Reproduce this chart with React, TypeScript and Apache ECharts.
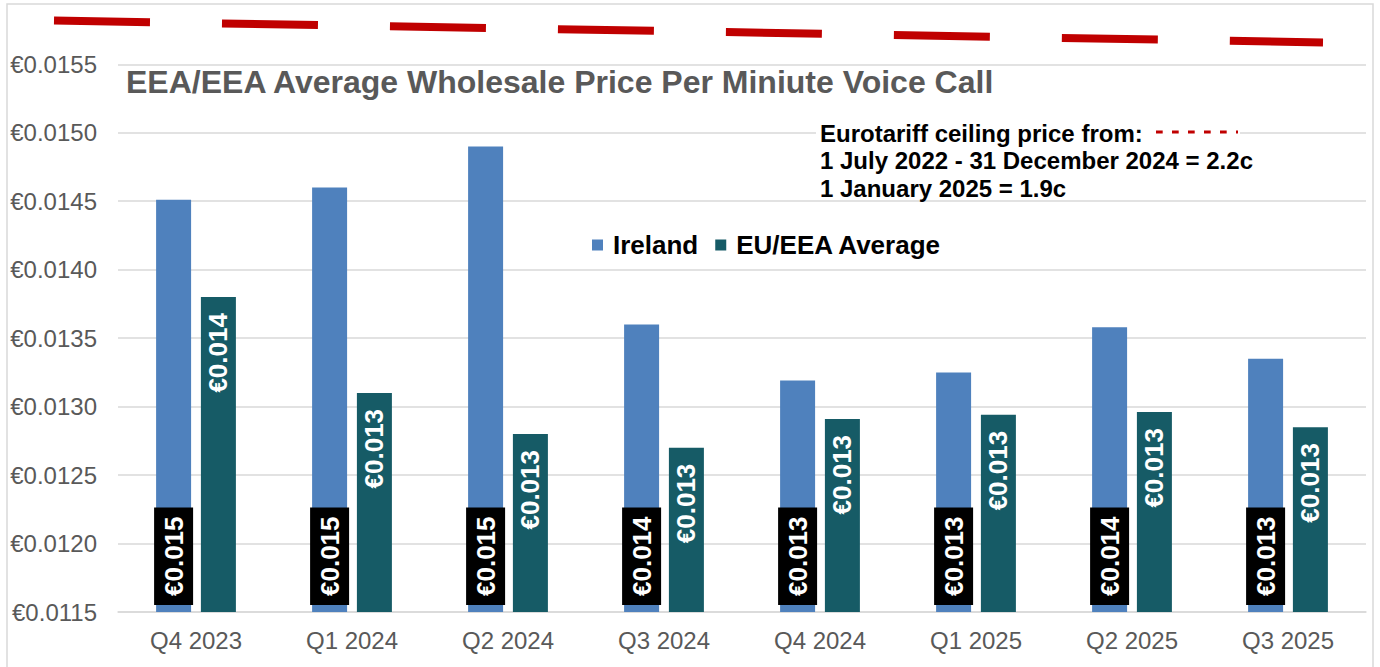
import React, { useEffect, useRef } from "react";
import * as echarts from "echarts";

const categories = ["Q4 2023", "Q1 2024", "Q2 2024", "Q3 2024", "Q4 2024", "Q1 2025", "Q2 2025", "Q3 2025"];
const irelandValues = [0.01451, 0.0146, 0.0149, 0.0136, 0.01319, 0.01325, 0.01358, 0.01335];
const euValues = [0.0138, 0.0131, 0.0128, 0.0127, 0.01291, 0.01294, 0.01296, 0.01285];
const ceilingLine = [0.01582, 0.01566];
const titleText = "EEA/EEA Average Wholesale Price Per Miniute Voice Call";
const noteLines = [
  "Eurotariff ceiling price from:",
  "1 July 2022 - 31 December 2024 = 2.2c",
  "1 January 2025 = 1.9c",
];

const FONT = "'Liberation Sans', Arial, sans-serif";
const fmtLabel = (v: number) => "€" + (Math.round(v * 1000) / 1000).toFixed(3);

export default function App() {
  const ref = useRef<HTMLDivElement>(null);
  useEffect(() => {
    document.body.style.margin = "0";
    const chart = echarts.init(ref.current!, undefined, { renderer: "svg" });
    const gridTop = 64.3;
    const gridBottom = 55;
    chart.setOption({
      animation: false,
      backgroundColor: "#ffffff",
      textStyle: { fontFamily: FONT },
      title: {
        text: titleText,
        left: 126,
        top: 66,
        padding: 0,
        textStyle: { fontFamily: FONT, fontSize: 32, fontWeight: "bold", color: "#595959" },
      },
      legend: {
        left: 592,
        top: 232,
        padding: 0,
        itemWidth: 11,
        itemHeight: 11,
        itemGap: 17,
        icon: "rect",
        data: ["Ireland", "EU/EEA Average"],
        textStyle: { fontFamily: FONT, fontSize: 26, fontWeight: "bold", color: "#000000", padding: [0, 0, 0, 5] },
      },
      grid: [
        { left: 118, right: 14, top: gridTop, bottom: gridBottom },
        { left: 54, right: 57, top: gridTop, bottom: gridBottom },
      ],
      xAxis: [
        {
          type: "category",
          gridIndex: 0,
          data: categories,
          axisTick: { show: false },
          axisLine: { lineStyle: { color: "#d9d9d9", width: 1.5 } },
          axisLabel: { fontFamily: FONT, fontSize: 24, color: "#595959", margin: 16 },
        },
        { type: "value", gridIndex: 1, min: 0, max: 1, show: false },
      ],
      yAxis: [
        {
          type: "value",
          gridIndex: 0,
          min: 0.0115,
          max: 0.0155,
          interval: 0.0005,
          axisLine: { show: false },
          axisTick: { show: false },
          splitLine: { lineStyle: { color: "#d9d9d9", width: 1.5 } },
          axisLabel: {
            fontFamily: FONT,
            fontSize: 24,
            color: "#595959",
            margin: 21,
            formatter: (v: number) => "€" + v.toFixed(4),
          },
        },
        { type: "value", gridIndex: 1, min: 0.0115, max: 0.0155, show: false },
      ],
      series: [
        {
          name: "Ireland",
          type: "bar",
          xAxisIndex: 0,
          yAxisIndex: 0,
          data: irelandValues,
          barWidth: 35,
          barGap: "28%",
          itemStyle: { color: "#4f81bd" },
          label: {
            show: true,
            position: "insideBottom",
            rotate: 90,
            align: "left",
            verticalAlign: "middle",
            distance: 7,
            formatter: (p: any) => fmtLabel(p.value),
            fontFamily: FONT,
            fontSize: 26,
            fontWeight: "bold",
            color: "#ffffff",
            backgroundColor: "#000000",
            padding: [7, 9],
            lineHeight: 25,
          },
        },
        {
          name: "EU/EEA Average",
          type: "bar",
          xAxisIndex: 0,
          yAxisIndex: 0,
          data: euValues,
          barWidth: 35,
          itemStyle: { color: "#165b66" },
          label: {
            show: true,
            position: "insideTop",
            rotate: 90,
            align: "right",
            verticalAlign: "middle",
            distance: 16,
            formatter: (p: any) => fmtLabel(p.value),
            fontFamily: FONT,
            fontSize: 26,
            fontWeight: "bold",
            color: "#ffffff",
          },
        },
        {
          name: "Eurotariff ceiling",
          type: "line",
          xAxisIndex: 1,
          yAxisIndex: 1,
          data: [
            [0, ceilingLine[0]],
            [1, ceilingLine[1]],
          ],
          clip: false,
          symbol: "none",
          silent: true,
          lineStyle: { color: "#c00000", width: 8, type: [96, 72], cap: "butt" },
        },
      ],
      graphic: [
        {
          type: "rect",
          z: -10,
          shape: { x: 7, y: 4, width: 1366, height: 700 },
          style: { fill: "none", stroke: "#d9d9d9", lineWidth: 1.5 },
        },
        {
          type: "rect",
          z: 5,
          shape: { x: 816, y: 119, width: 424, height: 80 },
          style: { fill: "#ffffff" },
        },
        ...noteLines.map((t, i) => ({
          type: "text",
          z: 6,
          x: 820,
          y: 133 + i * 27.5,
          style: {
            text: t,
            fill: "#000000",
            font: `bold 24px ${FONT}`,
            textVerticalAlign: "middle",
          },
        })),
        {
          type: "line",
          z: 6,
          shape: { x1: 1156, y1: 132, x2: 1238, y2: 132 },
          style: { stroke: "#c00000", lineWidth: 3, lineDash: [6.7, 9.3] },
        },
      ],
    });
    return () => chart.dispose();
  }, []);
  return <div ref={ref} style={{ width: 1380, height: 667 }} />;
}
